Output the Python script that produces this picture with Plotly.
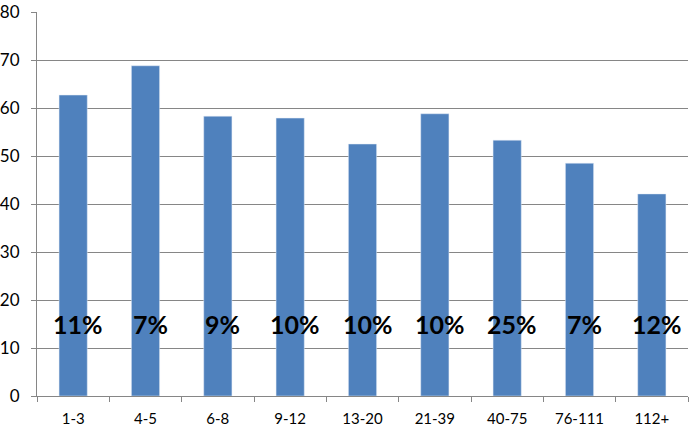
import plotly.graph_objects as go

categories = ["1-3", "4-5", "6-8", "9-12", "13-20", "21-39", "40-75", "76-111", "112+"]
values = [62.7, 68.8, 58.3, 57.9, 52.5, 58.8, 53.3, 48.5, 42.1]
pct_labels = ["11%", "7%", "9%", "10%", "10%", "10%", "25%", "7%", "12%"]
label_y = 15.0

fig = go.Figure()
fig.add_trace(go.Bar(x=categories, y=values, marker_color="#4F81BD", width=0.39))

for c, t in zip(categories, pct_labels):
    fig.add_annotation(x=c, y=label_y, text="<b>%s</b>" % t, showarrow=False, xshift=5,
                       font=dict(family="Lato, Arial", size=25, color="black"))

fig.update_layout(
    width=690, height=436,
    margin=dict(l=37, r=2, t=12, b=40),
    plot_bgcolor="white", paper_bgcolor="white",
    showlegend=False, bargap=0.6,
    font=dict(family="Lato, Arial", color="black"),
)
fig.update_xaxes(showline=True, linecolor="#868686", linewidth=1, ticks="outside",
                 tickson="boundaries", ticklen=5, tickcolor="#868686", showgrid=False,
                 tickfont=dict(size=15), automargin=False, ticklabelstandoff=9)
fig.update_yaxes(range=[0, 80], dtick=10, showline=True, linecolor="#868686", linewidth=1,
                 ticks="outside", ticklen=5, tickcolor="#868686", showgrid=True,
                 gridcolor="#868686", gridwidth=1, tickfont=dict(size=17), zeroline=False,
                 automargin=False, ticklabelstandoff=8)

fig.write_html("out.html", config={"displayModeBar": False},
               post_script="document.body.style.margin='0';document.body.style.overflow='hidden';")
